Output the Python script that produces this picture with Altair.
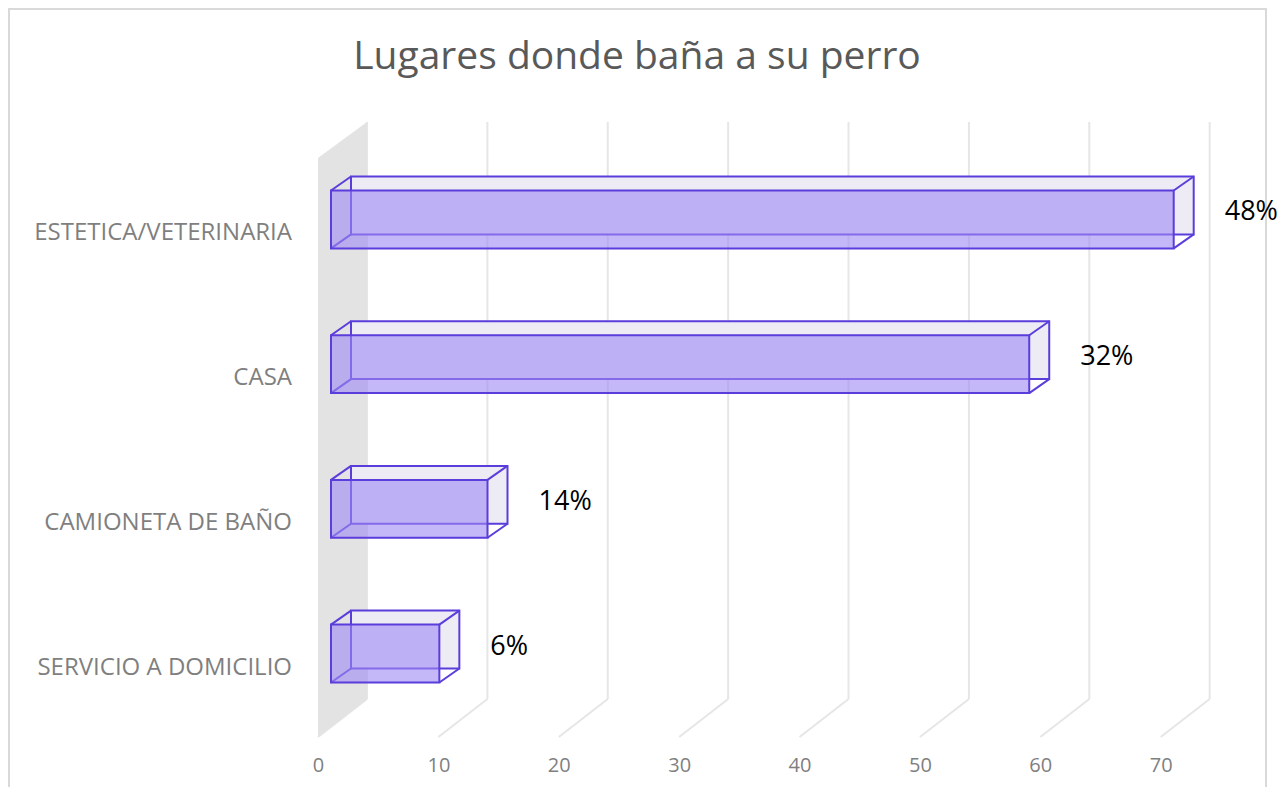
import altair as alt
import pandas as pd

# ---- data ----
categories = ["ESTETICA/VETERINARIA", "CASA", "CAMIONETA DE BAÑO", "SERVICIO A DOMICILIO"]
values = [70, 58, 13, 9]
labels = ["48%", "32%", "14%", "6%"]
ticks = [0, 10, 20, 30, 40, 50, 60, 70]
title_text = "Lugares donde baña a su perro"

# ---- tables built from the lists ----
n = len(categories)
HALF = 0.2
bars = pd.DataFrame({"cat": categories, "val": values, "lab": labels})
bars["pos"] = [n - 1 - i + 0.5 for i in range(n)]
bars["y0"] = bars["pos"] - HALF
bars["y1"] = bars["pos"] + HALF
bars["zero"] = 0

corners = pd.DataFrame(
    [{"cx": cx, "cy": cy} for _, r in bars.iterrows() for cx in (0, r["val"]) for cy in (r["y0"], r["y1"])]
)
tick_df = pd.DataFrame({"t": ticks})

XMAX = 78
W = 939
H = 615
YMIN, YMAX = -0.125, n + 0.125
wall_df = pd.DataFrame({"x": [0], "yc": [(YMIN + YMAX) / 2], "title": [title_text]})

PURPLE = "#5b3ddb"
FONT = "Open Sans"

xscale = alt.Scale(domain=[0, XMAX], nice=False, zero=False)
yscale = alt.Scale(domain=[YMIN, YMAX], nice=False, zero=False)
xaxis = alt.Axis(values=ticks, domain=False, ticks=False, grid=False, labelFlush=False,
                 labelFontSize=20, labelFont=FONT, labelColor="#7f7f7f", labelPadding=18, title=None)


def X(f):
    return alt.X(f, type="quantitative", scale=xscale, axis=xaxis)


def Y(f):
    return alt.Y(f, type="quantitative", scale=yscale, axis=None)


border = alt.Chart(wall_df).mark_rect(fill=None, stroke="#d9d9d9", strokeWidth=2).encode(
    x=alt.value(-309), x2=alt.value(948), y=alt.value(-113), y2=alt.value(700)
)

title = alt.Chart(wall_df).mark_text(align="center", baseline="middle", fontSize=39, font=FONT,
                                     color="#595959").encode(
    x=alt.value(319), y=alt.value(-65), text="title:N"
)

grid_back = alt.Chart(tick_df).mark_rule(color="#e6e6e6", strokeWidth=2, xOffset=49, x2Offset=49,
                                         yOffset=-38).encode(
    x=X("t"), y=alt.Y(datum=YMIN, type="quantitative", scale=yscale, axis=None), y2=alt.datum(YMAX)
)

grid_floor = alt.Chart(tick_df).mark_rule(color="#e6e6e6", strokeWidth=2, xOffset=0, x2Offset=49,
                                          yOffset=0, y2Offset=-38).encode(
    x=X("t"), x2="t", y=alt.Y(datum=YMIN, type="quantitative", scale=yscale, axis=None), y2=alt.datum(YMIN)
)

wall_path = "M-0.0797,-0.8829 L0.0797,-1 L0.0797,0.8764 L-0.0797,1 Z"
wall = alt.Chart(wall_df).mark_point(shape=wall_path, size=H * H, filled=True, fill="#e3e3e3",
                                     strokeWidth=0, opacity=1, xOffset=24.5).encode(
    x=X("x"), y=Y("yc")
)

back = alt.Chart(bars).mark_rect(fill="#edecf5", stroke=PURPLE, strokeWidth=2,
                                 xOffset=33, x2Offset=33, yOffset=-7, y2Offset=-7).encode(
    x=X("zero"), x2="val", y=Y("y0"), y2="y1"
)

edges = alt.Chart(corners).mark_rule(color=PURPLE, strokeWidth=2, xOffset=13, x2Offset=33,
                                     yOffset=7, y2Offset=-7).encode(
    x=X("cx"), x2="cx", y=Y("cy"), y2="cy"
)

front = alt.Chart(bars).mark_rect(fill="#9f88f3", fillOpacity=0.6, stroke=PURPLE, strokeWidth=2,
                                  xOffset=13, x2Offset=13, yOffset=7, y2Offset=7).encode(
    x=X("zero"), x2="val", y=Y("y0"), y2="y1"
)

cat_text = alt.Chart(bars).mark_text(align="right", baseline="middle", dx=-26, dy=21, fontSize=24,
                                     font=FONT, color="#7f7f7f").encode(
    x=X("zero"), y=Y("pos"), text="cat:N"
)

pct_text = alt.Chart(bars).mark_text(align="left", baseline="middle", dx=64, fontSize=27,
                                     font=FONT, color="#000000").encode(
    x=X("val"), y=Y("pos"), text="lab:N"
)

chart = alt.layer(
    border, title, grid_back, grid_floor, wall, back, edges, front, cat_text, pct_text
).properties(
    width=W,
    height=H,
    autosize=alt.AutoSizeParams(type="none"),
    padding={"left": 310, "top": 114, "right": 21, "bottom": 50},
).configure_view(stroke=None)

chart.save("out.html", embed_options={"renderer": "svg", "actions": False})
